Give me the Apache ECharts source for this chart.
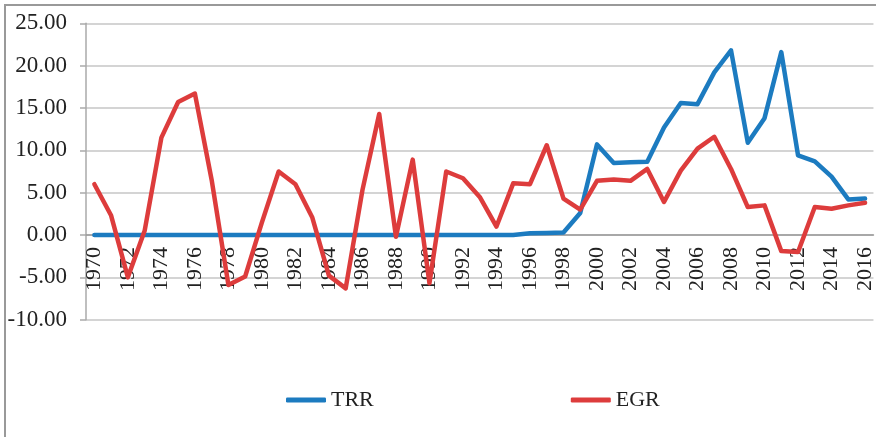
<!DOCTYPE html>
<html>
<head>
<meta charset="utf-8">
<script src="https://cdn.jsdelivr.net/npm/echarts@6/dist/echarts.min.js"></script>
<style>
  html, body { margin: 0; padding: 0; background: #fff; }
  #wrap { position: relative; width: 876px; height: 437px; overflow: hidden; }
  #chart { width: 876px; height: 437px; }
  #frame {
    position: absolute; left: 4px; top: 4px; right: -10px; height: 431px;
    border-top: 2px solid #999; border-left: 2px solid #999; border-bottom: 2px solid #bbb;
    pointer-events: none;
  }
</style>
</head>
<body>
<div id="wrap">
  <div id="chart"></div>
  <div id="frame"></div>
</div>
<script>
  // years on the x axis
  var years = [];
  for (var y = 1970; y <= 2016; y++) years.push(String(y));

  // TRR values
  var trr = [
    0, 0, 0, 0, 0, 0, 0, 0, 0, 0,
    0, 0, 0, 0, 0, 0, 0, 0, 0, 0,
    0, 0, 0, 0, 0, 0, 0.2, 0.25, 0.3, 2.6,
    10.7, 8.5, 8.6, 8.65, 12.7, 15.6, 15.45, 19.2, 21.8, 10.9,
    13.8, 21.6, 9.4, 8.7, 6.9, 4.2, 4.3
  ];

  // EGR values
  var egr = [
    6.0, 2.3, -5.0, 0.5, 11.5, 15.7, 16.7, 6.5, -5.9, -4.9,
    1.5, 7.5, 6.0, 2.1, -4.8, -6.3, 5.3, 14.3, -0.2, 8.9,
    -5.7, 7.5, 6.7, 4.5, 1.0, 6.1, 6.0, 10.6, 4.3, 3.0,
    6.4, 6.55, 6.4, 7.8, 3.9, 7.6, 10.2, 11.6, 7.8, 3.3,
    3.5, -1.9, -2.0, 3.3, 3.1, 3.5, 3.8
  ];

  var yMin = -10, yMax = 25;
  var serif = '"Liberation Serif", "Times New Roman", serif';
  var gridH = 296.4;

  var chart = echarts.init(document.getElementById('chart'));
  chart.setOption({
    animation: false,
    backgroundColor: '#fff',
    grid: { left: 86, top: 23.3, width: 793, height: gridH },
    legend: {
      left: 286, top: 389, padding: 0,
      itemWidth: 40, itemHeight: 5, itemGap: 197,
      icon: 'roundRect',
      textStyle: { fontFamily: serif, fontSize: 22, color: '#222' },
      data: ['TRR', 'EGR']
    },
    xAxis: {
      type: 'category',
      data: years,
      boundaryGap: true,
      // axis sits on the zero line
      offset: -gridH * (0 - yMin) / (yMax - yMin),
      axisLine: { onZero: false, lineStyle: { color: '#999', width: 1.5 } },
      axisTick: { interval: 1, length: 8, lineStyle: { color: '#999', width: 1.5 } },
      axisLabel: { interval: 1, rotate: 90, margin: 12, fontFamily: serif, fontSize: 22, color: '#222' },
      splitLine: { show: false }
    },
    yAxis: {
      type: 'value',
      min: yMin, max: yMax, interval: 5,
      axisLine: { show: true, lineStyle: { color: '#aaa', width: 1.5 } },
      axisTick: { show: true, length: 6, lineStyle: { color: '#aaa', width: 1.5 } },
      axisLabel: {
        margin: 19, fontFamily: serif, fontSize: 23, color: '#222',
        formatter: function (v) { return v.toFixed(2); }
      },
      splitLine: { lineStyle: { color: '#c6c6c6', width: 1.5 } }
    },
    series: [
      {
        name: 'TRR', type: 'line', data: trr, showSymbol: false, symbol: 'none',
        lineStyle: { color: '#1c7bc0', width: 4.5, cap: 'round', join: 'round' },
        itemStyle: { color: '#1c7bc0' }
      },
      {
        name: 'EGR', type: 'line', data: egr, showSymbol: false, symbol: 'none',
        lineStyle: { color: '#dd3c3c', width: 4.5, cap: 'round', join: 'round' },
        itemStyle: { color: '#dd3c3c' }
      }
    ]
  });
</script>
</body>
</html>
